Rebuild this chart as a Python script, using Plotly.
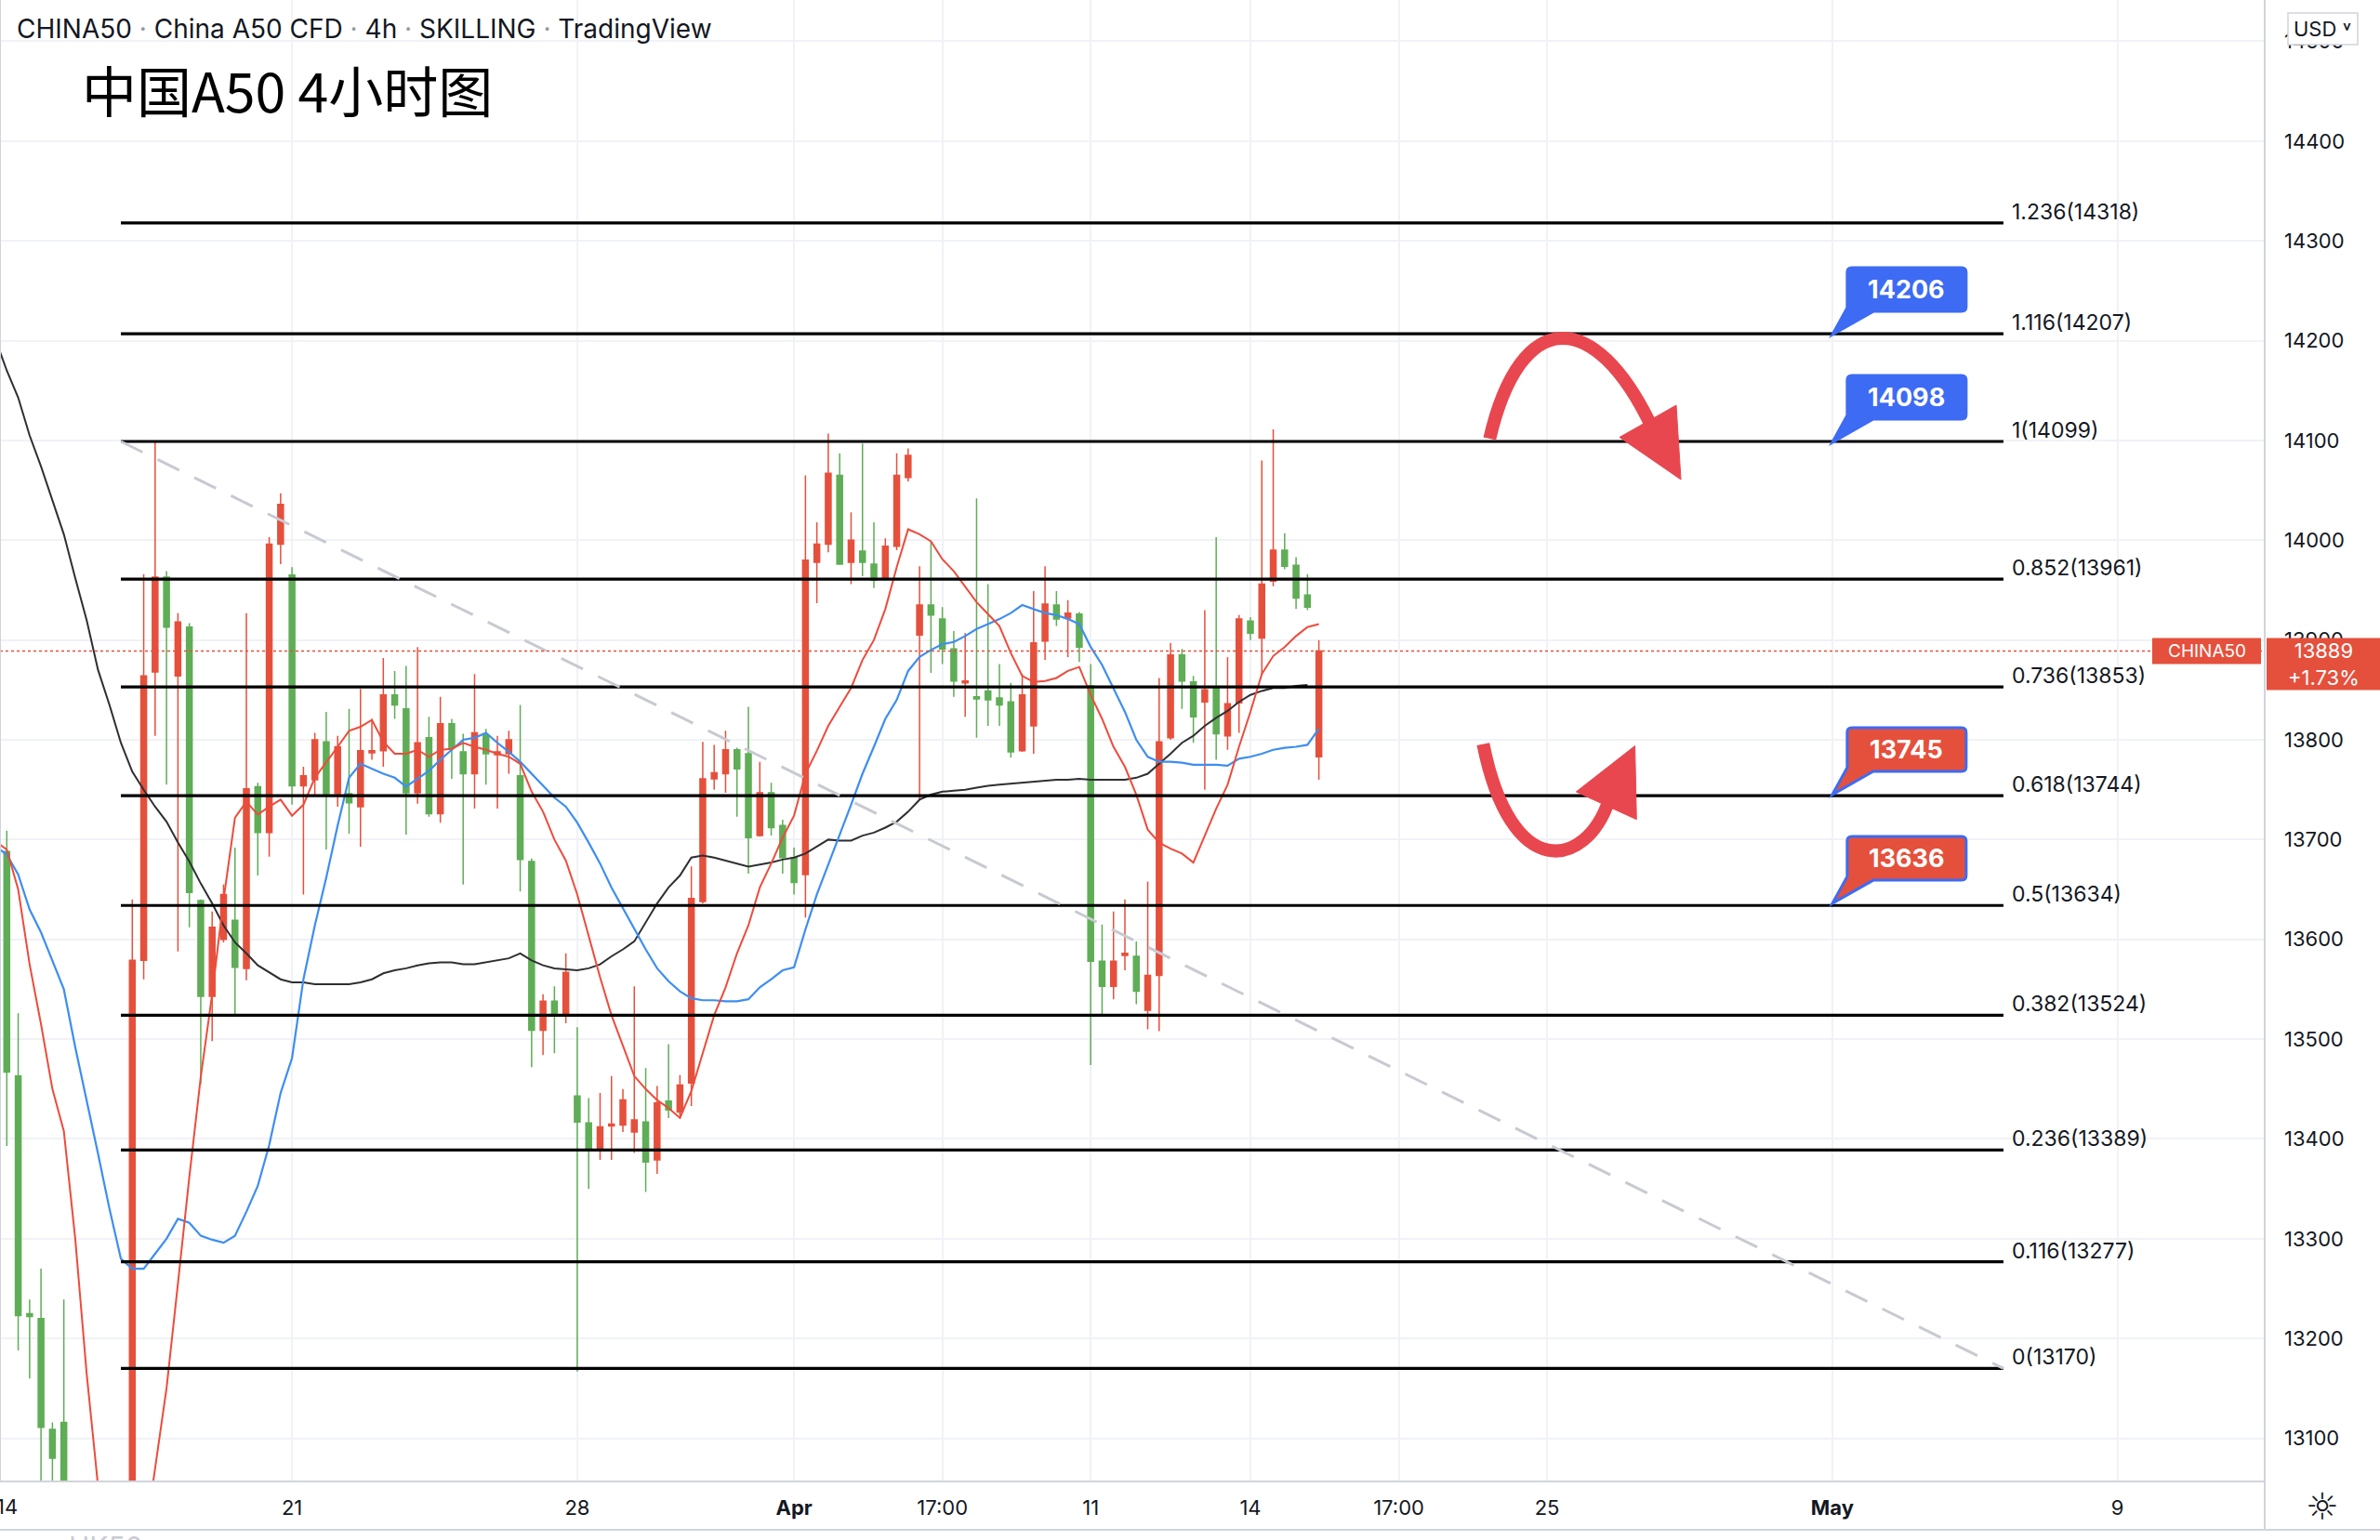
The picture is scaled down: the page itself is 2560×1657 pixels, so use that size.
import plotly.graph_objects as go

# ---------------- data (4h candles, index 0 = first candle of Mar 14) ----------------
candle_idx = list(range(116))
opens = [13688,13463,13225,13220,13109,13116,12990,12950,12900,12880,12930,12960,13579,13868,13963,13864,13913,13639,13543,13600,
         13619,13571,13753,13707,13996,13965,13754,13760,13798,13746,13746,13733,13787,13789,13845,13831,13747,13802,13726,13816,
         13788,13766,13805,13785,13786,13764,13678,13509,13538,13526,13443,13416,13388,13413,13414,13407,13417,13379,13438,13427,
         13456,13638,13761,13766,13790,13786,13704,13747,13714,13682,13665,13978,13996,14065,13978,13989,13976,13962,13994,14063,
         13905,13935,13921,13891,13857,13843,13849,13842,13838,13789,13814,13899,13935,13922,13926,13854,13578,13553,13584,13583,
         13529,13564,13802,13885,13858,13838,13853,13804,13837,13919,13902,13959,13990,13975,13945,13783]
highs = [13709,13526,13239,13270,13116,13239,13020,12980,12940,12960,12990,13640,13966,14099,13969,13927,13917,13640,13628,13655,
         13692,13927,13757,14003,14047,13973,13773,13807,13828,13804,13831,13851,13821,13882,13869,13874,13893,13823,13843,13821,
         13806,13866,13811,13804,13809,13835,13681,13545,13553,13586,13512,13441,13446,13463,13450,13553,13471,13453,13495,13464,
         13673,13798,13795,13809,13792,13833,13778,13757,13720,13692,14065,14018,14107,14087,14028,14097,14018,14002,14087,14092,
         13974,13999,13933,13909,13907,14042,13956,13876,13857,13866,13949,13974,13949,13940,13928,13876,13615,13628,13640,13598,
         13658,13862,13897,13891,13864,13930,14003,13883,13925,13923,14080,14111,14007,13983,13966,13900]
lows = [13393,13188,13160,13040,13050,12970,12920,12880,12850,12860,12900,12930,13560,13804,13755,13588,13612,13455,13498,13597,
        13524,13559,13664,13683,13976,13735,13645,13745,13690,13733,13706,13693,13780,13773,13821,13705,13736,13723,13717,13761,
        13655,13731,13755,13731,13766,13648,13472,13484,13486,13516,13167,13350,13379,13379,13407,13386,13347,13365,13421,13421,
        13433,13636,13750,13747,13723,13666,13703,13704,13666,13645,13622,13937,13988,13976,13956,13964,13952,13960,13990,14059,
        13740,13867,13876,13843,13823,13802,13814,13814,13782,13788,13786,13880,13914,13883,13878,13474,13523,13540,13569,13535,
        13510,13508,13800,13831,13797,13750,13780,13790,13807,13900,13866,13954,13971,13931,13930,13760]
closes = [13467,13223,13222,13111,13080,12990,12950,12900,12880,12930,12960,13579,13864,13963,13913,13918,13647,13543,13612,13645,
          13572,13751,13707,13996,14036,13754,13764,13800,13746,13793,13737,13789,13789,13845,13835,13747,13797,13726,13816,13792,
          13766,13807,13786,13788,13800,13680,13509,13538,13526,13567,13417,13391,13412,13415,13439,13419,13377,13436,13429,13454,
          13641,13761,13767,13790,13771,13702,13747,13712,13682,13657,13980,13996,14067,13976,14000,13978,13960,13994,14065,14085,
          13935,13925,13891,13859,13859,13841,13840,13835,13788,13845,13897,13936,13921,13927,13893,13578,13553,13578,13586,13548,
          13564,13798,13885,13859,13823,13850,13806,13836,13921,13907,13956,13990,13974,13942,13933,13889]

# moving averages (one value per candle; first point sits at the left edge)
ma_x = [-0.6] + candle_idx
ma_red = [13695,
          13690,13650,13575,13515,13450,13408,13300,13165,13052,12960,12900,12930,12990,13070,13150,13255,13362,13462,13545,13640,
          13722,13738,13725,13733,13740,13724,13735,13762,13777,13793,13809,13813,13820,13798,13786,13786,13790,13783,13790,13791,
          13797,13793,13790,13786,13783,13776,13748,13728,13700,13679,13645,13603,13562,13524,13493,13463,13450,13439,13431,13421,
          13448,13486,13524,13552,13586,13614,13652,13676,13702,13724,13766,13789,13814,13833,13852,13880,13900,13931,13973,14011,
          14006,13999,13981,13969,13953,13938,13926,13914,13887,13864,13858,13859,13862,13869,13873,13845,13821,13793,13773,13745,
          13710,13697,13691,13686,13677,13704,13731,13755,13793,13828,13866,13884,13893,13904,13913,13916]
ma_blue = [13690,
           13685,13665,13630,13607,13578,13550,13492,13440,13385,13330,13280,13270,13270,13285,13300,13320,13316,13303,13299,13296,
           13303,13327,13353,13394,13446,13481,13560,13614,13662,13714,13762,13776,13771,13766,13762,13753,13761,13769,13780,13790,
           13800,13802,13807,13797,13788,13778,13766,13753,13742,13733,13717,13697,13676,13652,13631,13610,13590,13571,13558,13548,
           13541,13539,13539,13538,13538,13540,13552,13560,13569,13572,13610,13645,13676,13705,13735,13766,13793,13821,13840,13869,
           13883,13890,13896,13898,13904,13911,13916,13921,13927,13935,13931,13927,13925,13921,13916,13893,13875,13852,13828,13800,
           13783,13778,13778,13777,13775,13775,13775,13774,13781,13783,13786,13790,13792,13793,13795,13811]
ma_black = [14189,
            14170,14143,14105,14074,14040,14006,13962,13920,13870,13835,13797,13768,13750,13733,13718,13697,13678,13656,13636,13614,
            13597,13586,13574,13567,13560,13557,13557,13555,13555,13555,13555,13557,13560,13566,13569,13571,13574,13576,13577,13577,
            13575,13575,13577,13579,13581,13586,13579,13574,13571,13570,13569,13571,13575,13583,13590,13598,13617,13636,13652,13664,
            13682,13684,13682,13679,13676,13673,13675,13677,13680,13682,13686,13693,13700,13699,13699,13704,13707,13712,13718,13728,
            13740,13745,13748,13749,13750,13752,13754,13755,13756,13757,13758,13759,13760,13760,13761,13760,13760,13760,13760,13762,
            13766,13776,13786,13797,13804,13814,13822,13829,13838,13845,13849,13852,13852,13854,13855]

# fibonacci retracement drawing
fib_start, fib_end = 10, 175
fib_ratios = ["1.236", "1.116", "1", "0.852", "0.736", "0.618", "0.5", "0.382", "0.236", "0.116", "0"]
fib_values = [14318, 14207, 14099, 13961, 13853, 13744, 13634, 13524, 13389, 13277, 13170]

# price callouts
callout_x = 160
callout_prices = [14206, 14098, 13745, 13636]
callout_kinds = ["blue", "blue", "red", "red"]

last_price = 13889
last_change = "+1.73%"

# axes
first_tick_x, first_tick_text = 0, "14"
x_tickvals = [25, 50, 69, 82, 95, 109, 122, 135, 160, 185]
x_ticktext = ["21", "28", "<b>Apr</b>", "17:00", "11", "14", "17:00", "25", "<b>May</b>", "9"]
y_tickvals = list(range(13100, 14501, 100))
y_ticktext = [str(v) for v in y_tickvals]
x_range = [-0.595, 197.9]
y_range = [13057.7, 14541.4]

# hand-drawn curved arrows (data coordinates: candle index, price)
arrow_top = [(129.97, 14101.8), (132.66, 14234.1), (139.18, 14234.1), (144.2, 14113.0)]
arrow_top_head = [(141.35, 14103.2), (146.32, 14135.3), (146.73, 14060.8)]
arrow_bot = [(129.40, 13795.7), (131.84, 13656.6), (138.36, 13670.6), (140.40, 13738.6)]
arrow_bot_head = [(137.55, 13747.9), (142.70, 13793.9), (142.84, 13720.2)]

# ---------------- styling ----------------
RED = "#e5503c"
GREEN = "#5fad56"
BLUE_CALLOUT = "#3d6bf3"
ARROW_RED = "#e8474f"
TXT = "#131722"
FONT = "Inter"
W, H = 2560, 1657
ML, MR, MT, MB = 0, 124, 0, 64
PW, PH = W - ML - MR, H - MT - MB

fig = go.Figure()

fig.add_trace(go.Candlestick(
    x=candle_idx, open=opens, high=highs, low=lows, close=closes,
    increasing=dict(line=dict(color=RED, width=1.5), fillcolor=RED),
    decreasing=dict(line=dict(color=GREEN, width=1.5), fillcolor=GREEN),
    whiskerwidth=0, showlegend=False, hoverinfo="skip"))

fig.add_trace(go.Scatter(x=ma_x, y=ma_black, mode="lines", line=dict(color="#2f2f33", width=2), hoverinfo="skip"))
fig.add_trace(go.Scatter(x=ma_x, y=ma_blue, mode="lines", line=dict(color="#3d8ef0", width=2.2), hoverinfo="skip"))
fig.add_trace(go.Scatter(x=ma_x, y=ma_red, mode="lines", line=dict(color="#ee4b3b", width=2), hoverinfo="skip"))

# fib lines
fx, fy = [], []
for v in fib_values:
    fx += [fib_start, fib_end, None]
    fy += [v, v, None]
fig.add_trace(go.Scatter(x=fx, y=fy, mode="lines", line=dict(color="#000000", width=3.2), hoverinfo="skip"))

# dashed trend line from fib 1 start to fib 0 end
fig.add_trace(go.Scatter(x=[fib_start, fib_end], y=[fib_values[2], fib_values[-1]], mode="lines",
                         line=dict(color="#c8cad1", width=3, dash="26px,18px"), hoverinfo="skip"))

# last price dotted line
fig.add_trace(go.Scatter(x=x_range, y=[last_price, last_price], mode="lines",
                         line=dict(color=RED, width=1.6, dash="dot"), hoverinfo="skip"))

shapes = []
annotations = []

for v, r in zip(fib_values, fib_ratios):
    annotations.append(dict(x=fib_end, y=v, xref="x", yref="y", text=f"{r}({v})", showarrow=False,
                            xanchor="left", yanchor="middle", xshift=7, yshift=12,
                            font=dict(family=FONT, size=23, color=TXT)))

callout_path = ("M 0 0 L 16 29 L 16 67 Q 16 72 21 72 L 139 72 Q 144 72 144 67 "
                "L 144 30 Q 144 25 139 25 L 44 25 Z")
for p, kind in zip(callout_prices, callout_kinds):
    fill = BLUE_CALLOUT if kind == "blue" else RED
    shapes.append(dict(type="path", xref="x", yref="y", xsizemode="pixel", ysizemode="pixel",
                       xanchor=callout_x, yanchor=p, path=callout_path,
                       fillcolor=fill, line=dict(color=BLUE_CALLOUT, width=3), layer="above"))
    annotations.append(dict(x=callout_x, y=p, xref="x", yref="y", text=f"<b>{p}</b>", showarrow=False,
                            xanchor="center", yanchor="middle", xshift=80, yshift=49,
                            font=dict(family=FONT, size=27, color="white")))


def cubic(pts):
    (a, b), (c, d), (e, f), (g, h) = pts
    return f"M {a},{b} C {c},{d} {e},{f} {g},{h}"


def tri(pts):
    (a, b), (c, d), (e, f) = pts
    return f"M {a},{b} L {c},{d} L {e},{f} Z"


for curve, head in [(arrow_top, arrow_top_head), (arrow_bot, arrow_bot_head)]:
    shapes.append(dict(type="path", xref="x", yref="y", path=cubic(curve),
                       line=dict(color=ARROW_RED, width=14), fillcolor="rgba(0,0,0,0)", layer="above"))
    shapes.append(dict(type="path", xref="x", yref="y", path=tri(head),
                       line=dict(color=ARROW_RED, width=1), fillcolor=ARROW_RED, layer="above"))

# price labels on the right
shapes.append(dict(type="rect", xref="paper", yref="y", xsizemode="pixel", ysizemode="pixel",
                   xanchor=1, yanchor=last_price, x0=-121, x1=-4, y0=-14, y1=14,
                   fillcolor=RED, line=dict(width=0), layer="above"))
annotations.append(dict(x=1, y=last_price, xref="paper", yref="y", text="CHINA50", showarrow=False,
                        xanchor="center", yanchor="middle", xshift=-62, yshift=0,
                        font=dict(family=FONT, size=19, color="white")))
shapes.append(dict(type="rect", xref="paper", yref="y", xsizemode="pixel", ysizemode="pixel",
                   xanchor=1, yanchor=last_price, x0=2, x1=124, y0=14, y1=-42,
                   fillcolor=RED, line=dict(width=0), layer="above"))
annotations.append(dict(x=1, y=last_price, xref="paper", yref="y",
                        text=f"{last_price}<br>{last_change}", showarrow=False,
                        xanchor="center", yanchor="middle", xshift=63, yshift=-14,
                        font=dict(family=FONT, size=22, color="white")))

# USD box top right
shapes.append(dict(type="rect", xref="paper", yref="paper", x0=(2461 - ML) / PW, x1=(2536 - ML) / PW,
                   y0=1 - 48 / PH, y1=1 - 14 / PH, fillcolor="white",
                   line=dict(color="#d1d4dc", width=1.5), layer="above"))
annotations.append(dict(x=(2498 - ML) / PW, y=1 - 31 / PH, xref="paper", yref="paper", text="USD ˅",
                        showarrow=False, xanchor="center", yanchor="middle",
                        font=dict(family=FONT, size=22, color=TXT)))

# gear icon
annotations.append(dict(x=(2498 - ML) / PW, y=-(1621 - PH) / PH, xref="paper", yref="paper", text="☼",
                        showarrow=False, xanchor="center", yanchor="middle",
                        font=dict(family="DejaVu Sans", size=40, color=TXT)))

# first date label, cut by the left edge as in the original
annotations.append(dict(x=first_tick_x, y=-(1621 - PH) / PH, xref="x", yref="paper", text=first_tick_text,
                        showarrow=False, xanchor="center", yanchor="middle", xshift=0,
                        font=dict(family=FONT, size=22, color=TXT)))
# faint watermark at the very bottom (mostly cut off)
annotations.append(dict(x=114 / PW, y=-(1664 - PH) / PH, xref="paper", yref="paper", text="HK50",
                        showarrow=False, xanchor="center", yanchor="middle",
                        font=dict(family=FONT, size=30, color="#c9ccd3")))

# borders
shapes.append(dict(type="line", xref="paper", yref="paper", x0=0, x1=W / PW, y0=-(1646 - PH) / PH,
                   y1=-(1646 - PH) / PH, line=dict(color="#d1d4dc", width=2)))
shapes.append(dict(type="line", xref="paper", yref="paper", x0=1, x1=1, y0=-(1646 - PH) / PH, y1=1,
                   line=dict(color="#d1d4dc", width=2)))
shapes.append(dict(type="line", xref="paper", yref="paper", x0=0, x1=0, y0=0, y1=1,
                   line=dict(color="#d1d4dc", width=2)))

# header + title
dot = "<span style='color:#9598a1'> · </span>"
annotations.append(dict(x=16 / PW, y=1 - 31 / PH, xref="paper", yref="paper",
                        text=f"CHINA50{dot}China A50 CFD{dot}4h{dot}SKILLING{dot}TradingView",
                        showarrow=False, xanchor="left", yanchor="middle",
                        font=dict(family=FONT, size=28, color=TXT)))
annotations.append(dict(x=86 / PW, y=1 - 96 / PH, xref="paper", yref="paper", text="中国A50 4小时图",
                        showarrow=False, xanchor="left", yanchor="middle",
                        font=dict(family="Noto Sans CJK SC", size=59, color="#000000")))

fig.update_layout(
    width=W, height=H,
    margin=dict(l=ML, r=MR, t=MT, b=MB, autoexpand=False),
    paper_bgcolor="white", plot_bgcolor="white",
    showlegend=False,
    shapes=shapes, annotations=annotations,
    xaxis=dict(range=x_range, tickvals=x_tickvals, ticktext=x_ticktext, showgrid=True,
               gridcolor="#f0f2f6", gridwidth=2, zeroline=False, showline=True, linecolor="#d1d4dc",
               linewidth=2, ticks="", tickfont=dict(family=FONT, size=22, color=TXT),
               rangeslider=dict(visible=False), ticklabelstandoff=9),
    yaxis=dict(side="right", range=y_range, tickvals=y_tickvals, ticktext=y_ticktext, showgrid=True,
               gridcolor="#f0f2f6", gridwidth=2, zeroline=False, showline=False,
               ticks="", tickfont=dict(family=FONT, size=22, color=TXT), ticklabelstandoff=20),
)

fig.write_html("out.html", config={"displayModeBar": False},
               post_script="document.body.style.margin='0px';")
